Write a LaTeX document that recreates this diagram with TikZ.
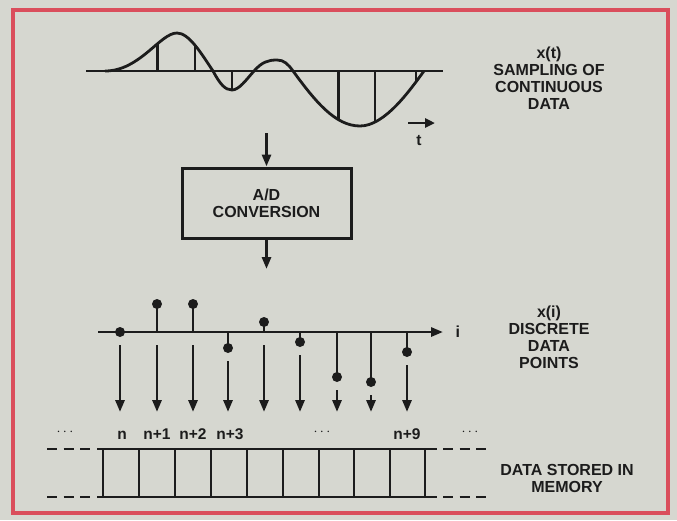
\documentclass[tikz,border=0pt]{standalone}
\usepackage{fontspec}
\setmainfont{Liberation Sans}
\usetikzlibrary{arrows.meta, positioning, calc}
\definecolor{pagegray}{RGB}{214,215,208}
\definecolor{framered}{RGB}{218,78,92}
\definecolor{ink}{RGB}{28,28,28}

\begin{document}
\begin{tikzpicture}[
    x=1pt, y=-1pt,
    node distance=4pt,
    line/.style={draw=ink, line width=2.8pt},
    flow/.style={line, -{Triangle[length=12pt, width=9pt]}},
    block/.style={rectangle, draw=ink, line width=3pt, minimum width=169pt, minimum height=70pt, align=center, font=\bfseries\fontsize{16}{17}\selectfont, text=ink},
    caption/.style={align=center, font=\bfseries\fontsize{16}{17}\selectfont, text=ink},
    cellno/.style={font=\bfseries\fontsize{15.5}{17}\selectfont, text=ink},
    sample/.style={circle, fill=ink, inner sep=0pt, minimum size=10pt},
    gap/.style={line, dash pattern=on 10pt off 6.5pt}
]

% page and frame
\fill[pagegray] (0,0) rectangle (677,520);
\useasboundingbox (0,0) rectangle (677,520);
\draw[framered, line width=3.5pt] (13,10) rectangle (668,513);

% continuous signal x(t)
\coordinate (tstart) at (86,71);
\coordinate (tend) at (443,71);
\draw[line] (tstart) -- (tend);
\draw[line, line join=round]
    (105,71) .. controls (140,71) and (160,33) .. coordinate[pos=0.65] (s1) (177,33)
             .. controls (189,33) and (201,53) .. coordinate[pos=0.5] (s2) (213,71)
             .. controls (220,84) and (225,90) .. (232,90) coordinate (s3)
             .. controls (239,90) and (246,80) .. (254,71)
             .. controls (262,62) and (268,60) .. (277,60)
             .. controls (284,60) and (288,64) .. (293,71)
             .. controls (315,101) and (335,126) .. coordinate[pos=0.7] (s4) (360,126)
             .. controls (385,126) and (410,90) .. coordinate[pos=0.2] (s5) coordinate[pos=0.83] (s6) (424,71);
\foreach \k in {1,...,6}
    \draw[line] (s\k) -- (s\k |- tstart);

\coordinate (tfrom) at (408,123);
\coordinate (tto) at (435,123);
\draw[line, -{Triangle[length=10pt, width=9pt]}] (tfrom) -- (tto);
\node[cellno, anchor=base] (tlabel) at (419,145) {t};

\node[caption] (xtcap) at (549,78) {x(t)\\SAMPLING OF\\CONTINUOUS\\DATA};

% A/D converter
\node[block] (adc) at (266.5,203) {A/D\\CONVERSION};
\coordinate (adcin) at (266.5,133);
\coordinate (adcout) at (266.5,269);
\draw[flow] (adcin) -- (adc.north);
\draw[flow] (adc.south) -- (adcout);

% discrete samples x(i)
\coordinate (istart) at (98,332);
\coordinate (iend) at (443,332);
\draw[flow] (istart) -- (iend);
\node[caption, right=9pt of iend] (ilabel) {i};

\node[caption] (xicap) at (549,337) {x(i)\\DISCRETE\\DATA\\POINTS};

\foreach \x/\y [count=\k] in {120/332, 157/304, 193/304, 228/348, 264/322, 300/342, 337/377, 371/382, 407/352} {
    \node[sample] (p\k) at (\x,\y) {};
    \draw[line] (p\k.center) -- (\x,332);
    \pgfmathsetmacro\ytop{max(\y,332)+13}
    \coordinate (a\k) at (\x,\ytop);
    \coordinate (b\k) at (\x,412);
    \draw[flow] (a\k) -- (b\k);
}

% memory cells
\coordinate (memtl) at (97,449);
\coordinate (memtr) at (437,449);
\coordinate (membl) at (97,497);
\coordinate (membr) at (437,497);
\draw[line] (memtl) -- (memtr);
\draw[line] (membl) -- (membr);
\foreach \x in {103,139,175,211,247,283,319,354,390,425}
    \draw[line] (\x,449) -- (\x,497);
\draw[gap] (47,449) -- (91,449);
\draw[gap] (47,497) -- (91,497);
\draw[gap] (443,449) -- (487,449);
\draw[gap] (443,497) -- (487,497);

\foreach \x/\t [count=\k] in {122/n, 157/n+1, 193/n+2, 230/n+3, 407/n+9}
    \node[cellno, anchor=base] (cell\k) at (\x,439) {\t};
\foreach \x [count=\k] in {65,322,470}
    \node[font=\fontsize{14}{14}\selectfont, text=ink] (more\k) at (\x,432) {$\cdots$};

\node[caption] (memcap) at (567,478) {DATA STORED IN\\MEMORY};

\end{tikzpicture}
\end{document}
